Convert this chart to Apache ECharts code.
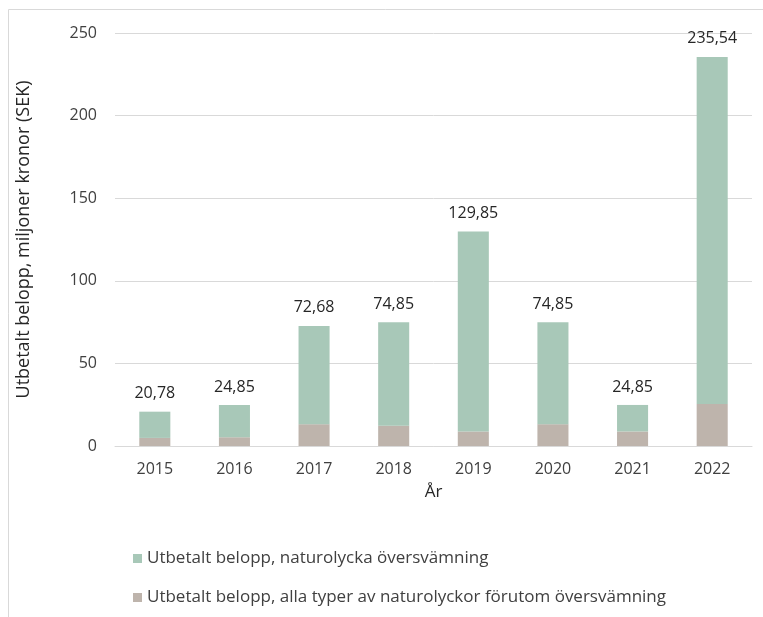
<!DOCTYPE html>
<html>
<head>
<meta charset="utf-8">
<script src="https://cdn.jsdelivr.net/npm/echarts@6/dist/echarts.min.js"></script>
<style>
  html, body { margin: 0; padding: 0; background: #fff; }
  #main { width: 763px; height: 617px; }
</style>
</head>
<body>
<div id="main"></div>
<script>
var years = ['2015', '2016', '2017', '2018', '2019', '2020', '2021', '2022'];
// flood payouts (green, top of stack)
var flood = [15.88, 19.55, 59.48, 62.55, 121.05, 61.65, 16.05, 210.14];
// all other natural disasters (grey, bottom of stack)
var other = [4.9, 5.3, 13.2, 12.3, 8.8, 13.2, 8.8, 25.4];
var yTicks = [0, 50, 100, 150, 200, 250];

var floodName = 'Utbetalt belopp, naturolycka översvämning';
var otherName = 'Utbetalt belopp, alla typer av naturolyckor förutom översvämning';
var font = '"Open Sans", sans-serif';

var myChart = echarts.init(document.getElementById('main'));
var option = {
    animation: false,
    textStyle: { fontFamily: font },
    graphic: [
        { type: 'line', shape: { x1: 8.5, y1: 9.5, x2: 763, y2: 9.5 }, style: { stroke: '#d9d9d9', lineWidth: 1 } },
        { type: 'line', shape: { x1: 8.5, y1: 9.5, x2: 8.5, y2: 617 }, style: { stroke: '#d9d9d9', lineWidth: 1 } }
    ],
    grid: { left: 115, right: 11, top: 33, bottom: 171 },
    legend: {
        orient: 'vertical',
        left: 128,
        top: 545,
        itemGap: 22,
        itemWidth: 9,
        itemHeight: 9,
        icon: 'rect',
        data: [floodName, otherName],
        textStyle: { fontSize: 17, color: '#404040', fontFamily: font }
    },
    xAxis: {
        type: 'category',
        data: years,
        name: 'År',
        nameLocation: 'middle',
        nameGap: 38,
        nameTextStyle: { fontSize: 17, color: '#262626' },
        axisLine: { show: true, lineStyle: { color: '#d9d9d9' } },
        axisTick: { show: false },
        axisLabel: { fontSize: 16, color: '#404040', margin: 15 }
    },
    yAxis: {
        type: 'value',
        min: yTicks[0],
        max: yTicks[yTicks.length - 1],
        interval: 50,
        name: 'Utbetalt belopp, miljoner kronor (SEK)',
        nameLocation: 'middle',
        nameGap: 82,
        nameTextStyle: { fontSize: 18, color: '#262626' },
        axisLine: { show: false },
        axisTick: { show: false },
        axisLabel: { fontSize: 16, color: '#404040', margin: 18 },
        splitLine: { lineStyle: { color: '#d9d9d9' } }
    },
    series: [
        {
            name: otherName,
            type: 'bar',
            stack: 'total',
            barWidth: '39%',
            itemStyle: { color: '#beb4ac' },
            data: other
        },
        {
            name: floodName,
            type: 'bar',
            stack: 'total',
            itemStyle: { color: '#a8c8b8' },
            label: {
                show: true,
                position: 'top',
                distance: 10,
                fontSize: 16,
                color: '#262626',
                formatter: function (p) {
                    var t = flood[p.dataIndex] + other[p.dataIndex];
                    return t.toFixed(2).replace('.', ',');
                }
            },
            data: flood
        }
    ]
};
myChart.setOption(option);
</script>
</body>
</html>
